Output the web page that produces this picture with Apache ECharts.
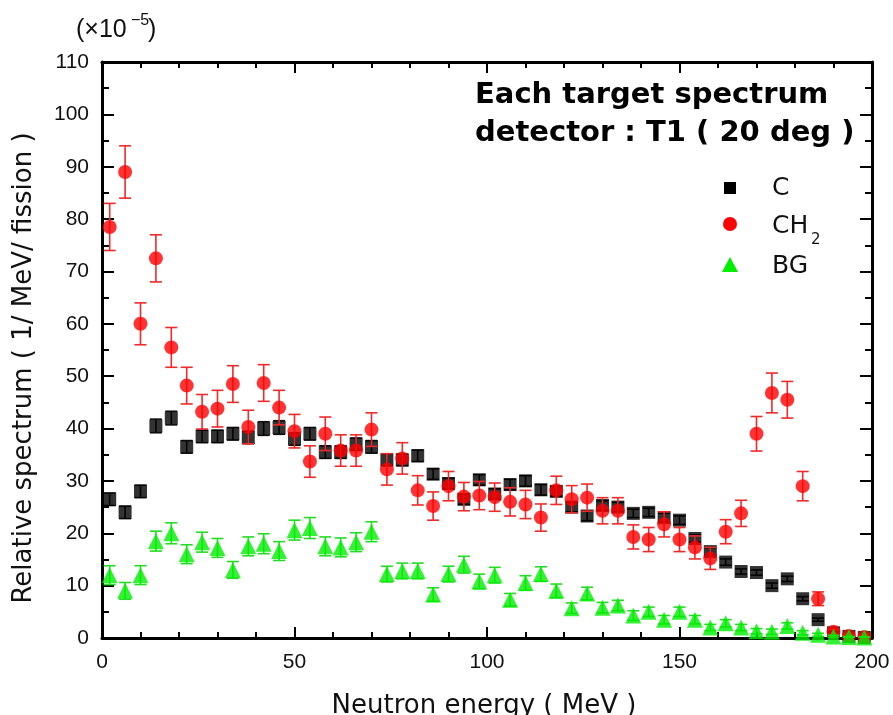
<!DOCTYPE html>
<html>
<head>
<meta charset="utf-8">
<script src="https://cdn.jsdelivr.net/npm/echarts@6/dist/echarts.min.js"></script>
<style>
html,body{margin:0;padding:0;background:#fff;}
#chart{width:893px;height:715px;}
</style>
</head>
<body>
<div id="chart"></div>
<script>
// ---- data ----
var energies = [2,6,10,14,18,22,26,30,34,38,42,46,50,54,58,62,66,70,74,78,82,86,90,94,98,102,106,110,114,118,122,126,130,134,138,142,146,150,154,158,162,166,170,174,178,182,186,190,194,198];

var cValues = [26.5,24,28,40.5,42,36.5,38.5,38.5,39,38.3,40,40.2,38,39,35.5,35.5,37,36.5,34,34,34.8,31.3,29.5,26.5,30.2,27.5,29.3,30,28.3,28,25,23.3,25.3,25,23.8,24,23,22.5,19,16.5,14.5,12.7,12.5,10,11.3,7.5,3.5,1,0.3,0.1];
var cErrors = [1.2,1.2,1.2,1.3,1.3,1.2,1.2,1.2,1.2,1.2,1.3,1.3,1.2,1.2,1.2,1.2,1.2,1.2,1.1,1.1,1.1,1.0,1.0,1.0,1.0,1.0,1.0,1.0,1.0,0.9,0.9,0.9,0.9,0.9,0.8,0.8,0.8,0.8,0.7,0.7,0.6,0.5,0.5,0.5,0.5,0.4,0.3,0.2,0.1,0.1];

var ch2Values = [78.5,89,60,72.5,55.5,48.2,43.2,43.8,48.5,40.3,48.7,44,39.5,33.7,39,35.8,35.8,39.8,32.2,34.3,28.2,25.2,29,27,27.2,26.9,26,25.5,23,28.2,26.5,26.8,24.3,24.3,19.3,18.8,21.7,18.8,17.3,15.2,20.3,23.8,39,46.8,45.5,29,7.5,1.2,0.4,0.2];
var ch2Errors = [4.5,5,4,4.5,3.8,3.5,3.3,3.5,3.5,3.2,3.5,3.3,3.2,3,3.2,3,3,3.2,3,3,2.8,2.7,2.8,2.7,2.7,2.7,2.7,2.7,2.6,2.7,2.6,2.6,2.5,2.5,2.3,2.3,2.4,2.3,2.2,2.1,2.3,2.5,3.3,3.8,3.5,2.8,1.3,0.5,0.3,0.2];

var bgValues = [12,9,12,18.5,20,16,18.3,17.2,13,17.5,18,16.6,20.6,21,17.5,17.3,18.3,20.3,12.2,12.8,12.8,8.3,12.2,14,10.8,12,7.3,10.5,12.2,9,5.7,8.5,5.8,6.2,4.3,5,3.5,5,3.5,2,2.8,2,1.3,1.2,2.3,1,0.6,0.3,0.2,0.1];
var bgErrors = [1.8,1.6,1.8,1.9,2,1.8,1.9,1.8,1.6,1.8,1.9,1.8,1.9,2,1.8,1.8,1.8,1.9,1.5,1.5,1.5,1.3,1.5,1.6,1.4,1.5,1.2,1.4,1.4,1.3,1.0,1.2,1.0,1.0,0.9,0.9,0.8,0.9,0.8,0.6,0.7,0.6,0.5,0.5,0.6,0.4,0.3,0.2,0.1,0.1];

var seriesNames = ['C', 'CH2', 'BG'];
var xTitle = 'Neutron energy ( MeV )';
var yTitle = 'Relative spectrum ( 1/ MeV/ fission )';
var titleLines = ['Each target spectrum', 'detector : T1 ( 20 deg )'];

// ---- build ----
function pts(vals) { return energies.map(function (e, i) { return [e, vals[i]]; }); }
function errPts(vals, errs) { return energies.map(function (e, i) { return [e, vals[i], errs[i]]; }); }

function errRender(color) {
  return function (params, api) {
    var x = api.value(0), y = api.value(1), e = api.value(2);
    var top = api.coord([x, y + e]);
    var bot = api.coord([x, Math.max(y - e, 0)]);
    var hw = 6;
    var st = { stroke: color, lineWidth: 1.6 };
    return {
      type: 'group',
      children: [
        { type: 'line', shape: { x1: top[0], y1: top[1], x2: bot[0], y2: bot[1] }, style: st },
        { type: 'line', shape: { x1: top[0] - hw, y1: top[1], x2: top[0] + hw, y2: top[1] }, style: st },
        { type: 'line', shape: { x1: bot[0] - hw, y1: bot[1], x2: bot[0] + hw, y2: bot[1] }, style: st }
      ]
    };
  };
}

var axisLine = { show: true, onZero: false, lineStyle: { color: '#000', width: 3 } };
var labelFont = { fontFamily: 'Liberation Sans', fontSize: 21, color: '#111' };
var titleFont = 'DejaVu Sans';

var chart = echarts.init(document.getElementById('chart'), null, { renderer: 'canvas' });
chart.setOption({
  animation: false,
  backgroundColor: '#fff',
  grid: { left: 102, right: 21, top: 62, bottom: 77, containLabel: false },
  xAxis: [
    {
      type: 'value', min: 0, max: 200, interval: 50, position: 'bottom',
      axisLine: axisLine,
      axisTick: { show: true, inside: true, length: 11, lineStyle: { color: '#000', width: 2 } },
      minorTick: { show: true, splitNumber: 5, length: 6, lineStyle: { color: '#000', width: 2 } },
      axisLabel: Object.assign({ margin: 14 }, labelFont),
      splitLine: { show: false }
    },
    {
      type: 'value', min: 0, max: 200, interval: 50, position: 'top',
      axisLine: axisLine,
      axisTick: { show: true, inside: true, length: 11, lineStyle: { color: '#000', width: 2 } },
      minorTick: { show: true, splitNumber: 5, length: 6, lineStyle: { color: '#000', width: 2 } },
      axisLabel: { show: false },
      splitLine: { show: false }
    }
  ],
  yAxis: [
    {
      type: 'value', min: 0, max: 110, interval: 10, position: 'left',
      axisLine: axisLine,
      axisTick: { show: true, inside: true, length: 12, lineStyle: { color: '#000', width: 2 } },
      minorTick: { show: true, splitNumber: 2, length: 7, lineStyle: { color: '#000', width: 2 } },
      axisLabel: Object.assign({ margin: 13 }, labelFont),
      splitLine: { show: false }
    },
    {
      type: 'value', min: 0, max: 110, interval: 10, position: 'right',
      axisLine: axisLine,
      axisTick: { show: true, inside: true, length: 12, lineStyle: { color: '#000', width: 2 } },
      minorTick: { show: true, splitNumber: 2, length: 7, lineStyle: { color: '#000', width: 2 } },
      axisLabel: { show: false },
      splitLine: { show: false }
    }
  ],
  series: [
    { type: 'custom', name: 'C err', renderItem: errRender('#111'), data: errPts(cValues, cErrors), clip: true, z: 2 },
    { type: 'scatter', name: seriesNames[0], symbol: 'rect', symbolSize: 13, itemStyle: { color: '#000' }, data: pts(cValues), z: 3 },
    { type: 'custom', name: 'CH2 err', renderItem: errRender('#ee2a2a'), data: errPts(ch2Values, ch2Errors), clip: true, z: 4 },
    { type: 'scatter', name: seriesNames[1], symbol: 'circle', symbolSize: 14, itemStyle: { color: '#ff0000' }, data: pts(ch2Values), z: 5 },
    { type: 'custom', name: 'BG err', renderItem: errRender('#22dd22'), data: errPts(bgValues, bgErrors), clip: true, z: 6 },
    { type: 'scatter', name: seriesNames[2], symbol: 'triangle', symbolSize: [16, 16], itemStyle: { color: '#00ee00' }, data: pts(bgValues), z: 7 }
  ],
  graphic: [
    { type: 'text', left: 76, top: 18, style: { text: '(\u00d710', font: '25px "Liberation Sans"', fill: '#111' } },
    { type: 'text', left: 131, top: 13, style: { text: '\u22125', font: '16px "Liberation Sans"', fill: '#111' } },
    { type: 'text', left: 148, top: 18, style: { text: ')', font: '25px "Liberation Sans"', fill: '#111' } },

    { type: 'text', left: 475, top: 81, style: { text: titleLines[0], font: 'bold 29px "' + titleFont + '"', fill: '#000' } },
    { type: 'text', left: 475, top: 119, style: { text: titleLines[1], font: 'bold 29px "' + titleFont + '"', fill: '#000' } },

    { type: 'rect', shape: { x: 724, y: 182, width: 12, height: 12 }, style: { fill: '#000' } },
    { type: 'circle', shape: { cx: 730, cy: 224, r: 7 }, style: { fill: '#ff0000' } },
    { type: 'polygon', shape: { points: [[730, 257], [738, 272], [722, 272]] }, style: { fill: '#00ee00' } },
    { type: 'text', x: 772, y: 188, style: { text: seriesNames[0], font: '25px "' + titleFont + '"', fill: '#111', textVerticalAlign: 'middle' } },
    { type: 'text', x: 772, y: 226, style: { text: 'CH', font: '25px "' + titleFont + '"', fill: '#111', textVerticalAlign: 'middle' } },
    { type: 'text', x: 811, y: 240, style: { text: '2', font: '15px "' + titleFont + '"', fill: '#111', textVerticalAlign: 'middle' } },
    { type: 'text', x: 772, y: 266, style: { text: seriesNames[2], font: '25px "' + titleFont + '"', fill: '#111', textVerticalAlign: 'middle' } },

    { type: 'text', x: 484, y: 693, style: { text: xTitle, font: '26px "' + titleFont + '"', fill: '#111', textAlign: 'center', textVerticalAlign: 'top' } },
    { type: 'text', x: 24, y: 368, rotation: Math.PI / 2, style: { text: yTitle, font: '26px "' + titleFont + '"', fill: '#111', textAlign: 'center', textVerticalAlign: 'middle' } }
  ]
});
</script>
</body>
</html>
